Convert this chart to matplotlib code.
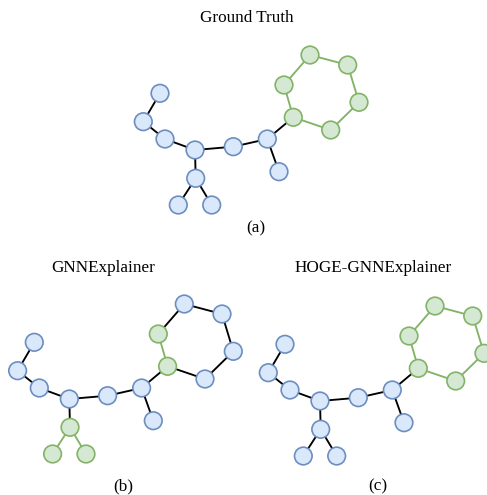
"""
Explanation subgraphs: ground truth vs. GNNExplainer vs. HOGE-GNNExplainer.

Same molecule drawn three times; green marks the nodes/edges picked out
as the explanation. Coordinates are in image pixels (origin top-left).
"""

import matplotlib.pyplot as plt
from matplotlib.patches import Circle

# node layout of the ground-truth panel (pixel coords)
NODE_X = [160, 143.3, 165, 195, 233.3, 267.3, 279, 195.7, 178.3, 211.7,
          293.3, 284, 310, 347.7, 359, 330.7]
NODE_Y = [93.3, 121.7, 139, 150, 146.7, 139, 171.7, 178.3, 205, 205,
          117.3, 85, 55, 65, 102.3, 130]

EDGES = [(0, 1), (1, 2), (2, 3), (3, 4), (4, 5), (5, 6), (3, 7), (7, 8), (7, 9),
         (5, 10), (10, 11), (11, 12), (12, 13), (13, 14), (14, 15), (15, 10)]

# 1 = part of the explanation (green), 0 = not (blue)
MASK_TRUTH = [0] * 10 + [1] * 6
MASK_GNNEXP = [0] * 7 + [1, 1, 1] + [1, 1, 0, 0, 0, 0]
MASK_HOGE = [0] * 10 + [1] * 6

PANELS = [
    # title, label, mask, offset
    ("Ground Truth", "(a)", MASK_TRUTH, (0, 0)),
    ("GNNExplainer", "(b)", MASK_GNNEXP, (-125.7, 249)),
    ("HOGE-GNNExplainer", "(c)", MASK_HOGE, (125, 251)),
]
TITLE_POS = [(247, 18), (103, 268), (373, 268)]
LABEL_POS = [(256, 228), (123, 486), (378, 486)]

BLUE_FILL, BLUE_EDGE = "#dae8fc", "#6c8ebf"
GREEN_FILL, GREEN_EDGE = "#d5e8d4", "#82b366"
W, H = 487, 495

plt.rcParams["font.family"] = ["Liberation Serif", "DejaVu Serif"]

fig = plt.figure(figsize=(W / 100, H / 100), dpi=100)
ax = fig.add_axes([0, 0, 1, 1])
ax.set_xlim(0, W)
ax.set_ylim(H, 0)
ax.set_aspect("equal")
ax.axis("off")

for (title, label, mask, (dx, dy)), tpos, lpos in zip(PANELS, TITLE_POS, LABEL_POS):
    xs = [x + dx for x in NODE_X]
    ys = [y + dy for y in NODE_Y]

    for a, b in EDGES:
        green = mask[a] and mask[b]
        ax.plot([xs[a], xs[b]], [ys[a], ys[b]],
                color=GREEN_EDGE if green else "black",
                lw=1.35, zorder=1, solid_capstyle="butt")

    for i, (x, y) in enumerate(zip(xs, ys)):
        fc, ec = (GREEN_FILL, GREEN_EDGE) if mask[i] else (BLUE_FILL, BLUE_EDGE)
        ax.add_patch(Circle((x, y), 8.8, facecolor=fc, edgecolor=ec,
                            lw=1.2, zorder=2))

    ax.text(*tpos, title, ha="center", va="center", fontsize=12.3)
    ax.text(*lpos, label, ha="center", va="center", fontsize=12.3)

fig.savefig("out.png", dpi=100)
